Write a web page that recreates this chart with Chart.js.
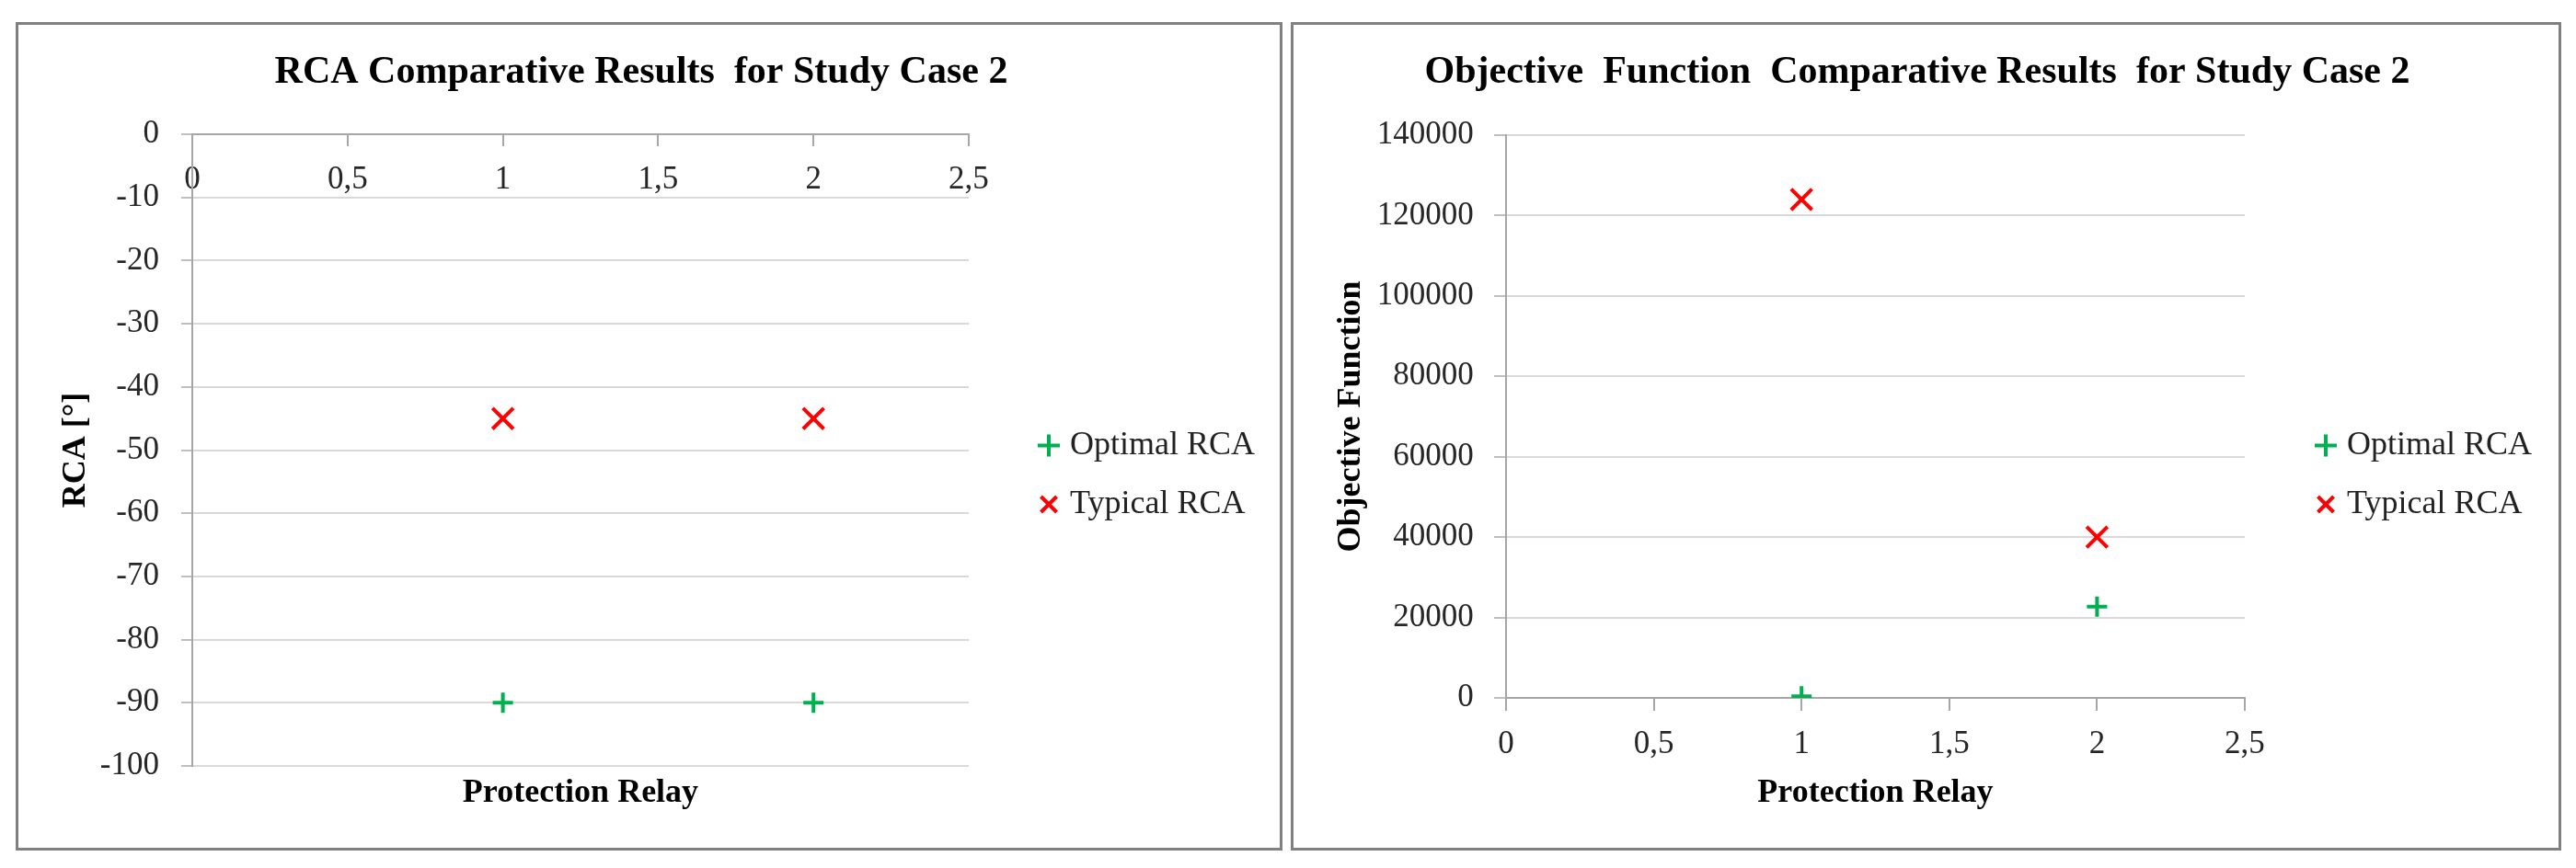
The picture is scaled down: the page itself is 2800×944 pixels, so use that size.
<!DOCTYPE html>
<html>
<head>
<meta charset="utf-8">
<script src="https://cdn.jsdelivr.net/npm/chart.js@4.4.1/dist/chart.umd.min.js"></script>
<style>
  html, body { margin: 0; padding: 0; background: #fff; }
  body { width: 2800px; height: 944px; position: relative; overflow: hidden; }
  .panel { position: absolute; top: 24px; height: 901px; border: 3px solid #808080; box-sizing: border-box; background: #fff; }
  .panel canvas { display: block; }
</style>
</head>
<body>
<div class="panel" style="left:17px;width:1377px"><canvas id="rca" width="1371" height="895"></canvas></div>
<div class="panel" style="left:1403px;width:1381px"><canvas id="obj" width="1375" height="895"></canvas></div>
<script>
// values
const relays = [1, 2];
const rcaOptimal = [-90, -90];
const rcaTypical = [-45, -45];
const objOptimal = [400, 22700];
const objTypical = [124000, 40000];

const seriesNames = ['Optimal RCA', 'Typical RCA'];
const xTickLabels = ['0', '0,5', '1', '1,5', '2', '2,5'];
const rcaTitle = 'RCA Comparative Results  for Study Case 2';
const objTitle = 'Objective  Function  Comparative Results  for Study Case 2';

const FONT = 'Liberation Serif';
const GREEN = '#00b050';
const RED = '#ff0000';
const GRID = '#d9d9d9';
const AXIS = '#a6a6a6';

Chart.defaults.font.family = FONT;
Chart.defaults.color = '#262626';

function points(ys) {
  return relays.map((x, i) => ({ x, y: ys[i] }));
}

function datasets(optimal, typical) {
  return [{
    label: seriesNames[0],
    data: points(optimal),
    pointStyle: 'cross',
    pointRadius: 11,
    pointHoverRadius: 11,
    pointBorderWidth: 4,
    borderColor: GREEN,
    backgroundColor: GREEN,
  }, {
    label: seriesNames[1],
    data: points(typical),
    pointStyle: 'crossRot',
    pointRadius: 16,
    pointHoverRadius: 16,
    pointBorderWidth: 4,
    borderColor: RED,
    backgroundColor: RED,
  }];
}

function title(text, bottom) {
  return {
    display: true,
    text,
    color: '#000',
    font: { size: 42, weight: 'bold' },
    padding: { top: 26.8, bottom },
  };
}

function legend() {
  return {
    position: 'right',
    maxWidth: 400,
    title: { display: true, text: '', font: { size: 10 }, padding: { top: 72, bottom: 0 } },
    labels: {
      usePointStyle: true,
      boxWidth: 10,
      boxHeight: 17,
      padding: 28,
      color: '#222',
      font: { size: 36 },
    },
  };
}

// empty right axis, only keeps a gap between plot and legend
const spacer = (w) => ({
  position: 'right',
  display: true,
  ticks: { display: false },
  grid: { display: false, drawTicks: false },
  border: { display: false },
  afterFit: s => { s.width = w; },
});

const axisTitle = (text, padding) => ({
  display: true,
  text,
  color: '#000',
  font: { size: 36, weight: 'bold' },
  padding,
});

new Chart(document.getElementById('rca'), {
  type: 'scatter',
  data: { datasets: datasets(rcaOptimal, rcaTypical) },
  options: {
    responsive: false,
    animation: false,
    layout: { padding: { left: 0, right: 17, top: 0, bottom: 0 } },
    plugins: {
      title: title(rcaTitle, 41.8),
      legend: legend(),
      tooltip: { enabled: false },
    },
    scales: {
      x: {
        type: 'linear',
        position: 'top',
        min: 0,
        max: 2.5,
        ticks: {
          stepSize: 0.5,
          mirror: true,
          padding: 28.5,
          maxRotation: 0,
          font: { size: 35 },
          callback: (v, i) => xTickLabels[i],
        },
        grid: { drawOnChartArea: false, tickLength: -13, color: AXIS, lineWidth: 2 },
        border: { color: AXIS, width: 2 },
        afterFit: s => { s.height = 0; },
      },
      x2: {
        type: 'linear',
        position: 'bottom',
        min: 0,
        max: 2.5,
        ticks: { display: false },
        grid: { display: false, drawTicks: false },
        border: { display: false },
        title: axisTitle('Protection Relay', { top: 8, bottom: 38 }),
        afterFit: s => { s.height = 89; },
      },
      y: {
        position: 'left',
        min: -100,
        max: 0,
        ticks: { stepSize: 10, padding: 24, font: { size: 35 }, callback: v => String(v) },
        grid: { color: GRID, lineWidth: 2, tickLength: 12, tickColor: '#bfbfbf' },
        border: { color: AXIS, width: 2 },
        title: axisTitle('RCA [°]', { top: 41.4, bottom: 0 }),
        afterFit: s => { s.width = 189; },
      },
      yR: spacer(54),
    },
  },
});

new Chart(document.getElementById('obj'), {
  type: 'scatter',
  data: { datasets: datasets(objOptimal, objTypical) },
  options: {
    responsive: false,
    animation: false,
    layout: { padding: { left: 0, right: 19, top: 0, bottom: 0 } },
    plugins: {
      title: title(objTitle, 42.8),
      legend: legend(),
      tooltip: { enabled: false },
    },
    scales: {
      x: {
        type: 'linear',
        position: 'bottom',
        min: 0,
        max: 2.5,
        ticks: {
          stepSize: 0.5,
          padding: 16,
          maxRotation: 0,
          font: { size: 35 },
          callback: (v, i) => xTickLabels[i],
        },
        grid: { drawOnChartArea: false, tickLength: 14, color: AXIS, lineWidth: 2 },
        border: { color: AXIS, width: 2 },
        title: axisTitle('Protection Relay', { top: 9.9, bottom: 37.9 }),
        afterFit: s => { s.height = 163; },
      },
      y: {
        position: 'left',
        min: 0,
        max: 140000,
        ticks: { stepSize: 20000, padding: 22.3, font: { size: 35 }, callback: v => String(v) },
        grid: { color: GRID, lineWidth: 2, tickLength: 13, tickColor: '#bfbfbf' },
        border: { color: AXIS, width: 2 },
        title: axisTitle('Objective Function', { top: 41.4, bottom: 0 }),
        afterFit: s => { s.width = 231; },
      },
      yR: spacer(55),
    },
  },
});
</script>
</body>
</html>
